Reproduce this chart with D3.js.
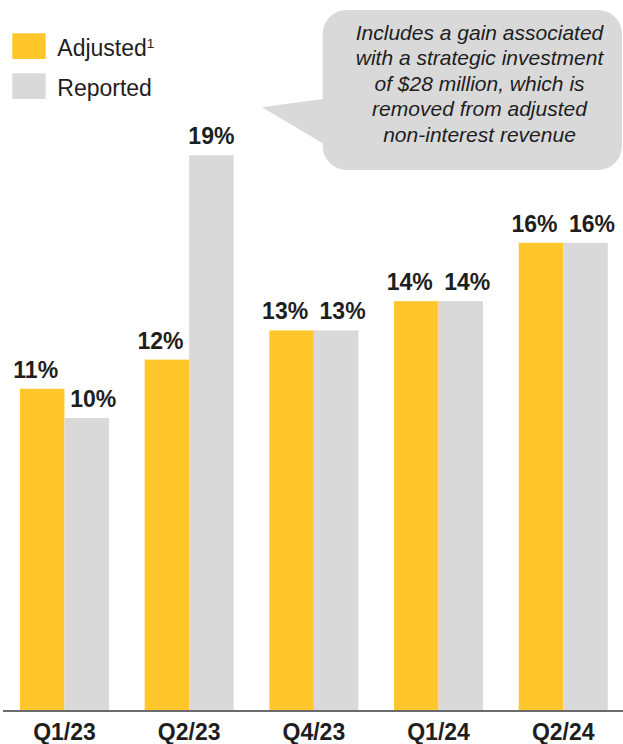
<!DOCTYPE html>
<html>
<head>
<meta charset="utf-8">
<script src="https://cdn.jsdelivr.net/npm/d3@7/dist/d3.min.js"></script>
<style>
  html, body { margin: 0; padding: 0; background: #fff; }
  svg { display: block; font-family: "Liberation Sans", Arial, Helvetica, sans-serif; }
</style>
</head>
<body>
<svg id="chart" width="623" height="744"></svg>
<script>
// Quarterly growth rates, adjusted vs. reported (%)
const categories = ["Q1/23", "Q2/23", "Q4/23", "Q1/24", "Q2/24"];
const seriesNames = ["Adjusted", "Reported"];
const adjusted = [11, 12, 13, 14, 16];
const reported = [10, 19, 13, 14, 16];
const calloutLines = [
  "Includes a gain associated",
  "with a strategic investment",
  "of $28 million, which is",
  "removed from adjusted",
  "non-interest revenue"
];

const colors = { Adjusted: "#FFC72C", Reported: "#D9D9D9" };
const textColor = "#1e1e1e";

const svg = d3.select("#chart");
const baseY = 710;

const x0 = d3.scaleBand()
  .domain(categories)
  .range([2.5, 625.2])
  .paddingInner(0.2863)
  .paddingOuter(0.14);

const x1 = d3.scaleBand()
  .domain(seriesNames)
  .range([0, x0.bandwidth()]);

const y = d3.scaleLinear()
  .domain([0, 20])
  .range([baseY, 126]);

const rows = categories.map((c, i) => ({
  category: c,
  values: [
    { series: "Adjusted", value: adjusted[i] },
    { series: "Reported", value: reported[i] }
  ]
}));

// Bars
const groups = svg.append("g").attr("class", "bars")
  .selectAll("g")
  .data(rows)
  .join("g")
  .attr("transform", d => `translate(${x0(d.category)},0)`);

groups.selectAll("rect")
  .data(d => d.values)
  .join("rect")
  .attr("x", d => x1(d.series))
  .attr("y", d => y(d.value))
  .attr("width", x1.bandwidth())
  .attr("height", d => baseY - y(d.value))
  .attr("fill", d => colors[d.series]);

// Value labels; paired labels at similar heights are nudged apart
groups.each(function (d) {
  const [a, r] = d.values;
  const close = Math.abs(y(a.value) - y(r.value)) < 40;
  d3.select(this).selectAll("text.val")
    .data(d.values)
    .join("text")
    .attr("class", "val")
    .attr("x", v => {
      const cx = x1(v.series) + x1.bandwidth() / 2;
      if (v.series === "Adjusted") return cx - 6.5;
      return close ? cx + 6.5 : cx;
    })
    .attr("y", v => y(v.value) - 11)
    .attr("text-anchor", "middle")
    .attr("font-size", 23)
    .attr("font-weight", "bold")
    .attr("fill", textColor)
    .text(v => v.value + "%");
});

// Category axis
const axis = svg.append("g")
  .attr("transform", `translate(0,${baseY + 0.5})`)
  .call(d3.axisBottom(x0).tickSize(0).tickSizeOuter(0).tickPadding(13));

axis.select(".domain")
  .attr("stroke", "#3a3a3a")
  .attr("stroke-width", 1.6);

axis.selectAll(".tick text")
  .attr("font-size", 23)
  .attr("font-weight", "bold")
  .attr("fill", textColor)
  .attr("font-family", "\"Liberation Sans\", Arial, sans-serif");

// Legend
const legend = svg.append("g").attr("class", "legend");
const legendRows = [
  { series: "Adjusted", top: 33.3, base: 56 },
  { series: "Reported", top: 73.3, base: 95.7 }
];
legend.selectAll("rect")
  .data(legendRows)
  .join("rect")
  .attr("x", 12.3)
  .attr("y", d => d.top)
  .attr("width", 33.4)
  .attr("height", 25.7)
  .attr("fill", d => colors[d.series]);

const legendText = legend.selectAll("text")
  .data(legendRows)
  .join("text")
  .attr("x", 57.3)
  .attr("y", d => d.base)
  .attr("font-size", 23)
  .attr("fill", textColor)
  .text(d => d.series);

legendText.filter(d => d.series === "Adjusted")
  .append("tspan")
  .attr("font-size", 13.5)
  .attr("dy", -8.5)
  .text("1");

// Speech-bubble callout
const bx0 = 322.7, bx1 = 622, by0 = 10, by1 = 170, rad = 24;
const tail = { tip: [262, 107.3], top: 99, bottom: 143.3 };
const p = d3.path();
p.moveTo(bx0 + rad, by0);
p.lineTo(bx1 - rad, by0);
p.arcTo(bx1, by0, bx1, by0 + rad, rad);
p.lineTo(bx1, by1 - rad);
p.arcTo(bx1, by1, bx1 - rad, by1, rad);
p.lineTo(bx0 + rad, by1);
p.arcTo(bx0, by1, bx0, by1 - rad, rad);
p.lineTo(bx0, tail.bottom);
p.lineTo(tail.tip[0], tail.tip[1]);
p.lineTo(bx0, tail.top);
p.lineTo(bx0, by0 + rad);
p.arcTo(bx0, by0, bx0 + rad, by0, rad);
p.closePath();

svg.append("path")
  .attr("d", p.toString())
  .attr("fill", "#D9D9D9");

svg.append("g").attr("class", "callout-text")
  .selectAll("text")
  .data(calloutLines)
  .join("text")
  .attr("x", 479.5)
  .attr("y", (d, i) => 39.5 + i * 25.5)
  .attr("text-anchor", "middle")
  .attr("font-size", 21)
  .attr("font-style", "italic")
  .attr("fill", textColor)
  .text(d => d);
</script>
</body>
</html>
